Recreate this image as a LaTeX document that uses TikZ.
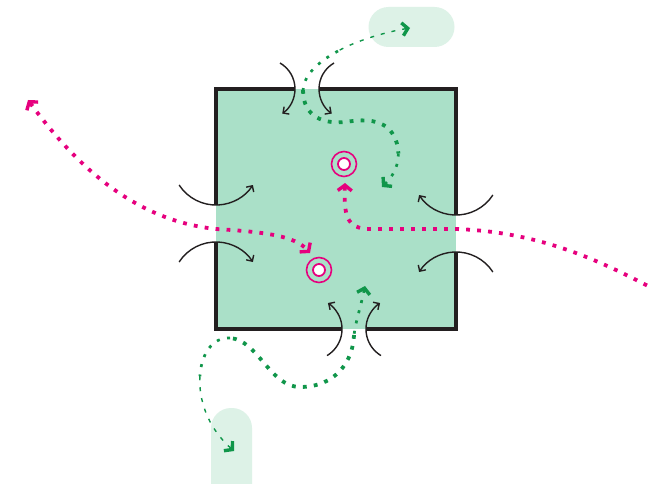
\documentclass[tikz,border=0pt]{standalone}
\usetikzlibrary{arrows.meta}
\definecolor{sqfill}{RGB}{170,224,200}
\definecolor{pillc}{RGB}{221,242,231}
\definecolor{edgec}{RGB}{35,31,32}
\definecolor{pinkc}{RGB}{230,0,126}
\definecolor{greenc}{RGB}{16,150,74}
\tikzset{
  pinkdots/.style={draw=pinkc, line width=3.8pt, dash pattern=on 3.8pt off 7.2pt},
  gthick/.style={draw=greenc, line width=3.8pt, dash pattern=on 3.8pt off 7.2pt},
  gmid/.style={draw=greenc, line width=2.7pt, dash pattern=on 3pt off 7.5pt},
  gthin/.style={draw=greenc, line width=1.4pt, dash pattern=on 4pt off 7pt},
  blackarc/.style={draw=edgec, line width=1.4pt, -{Straight Barb[length=4.5pt,width=9pt]}},
  border/.style={draw=edgec, line width=3.6pt},
  pill/.style={fill=pillc, rounded corners=20pt, inner sep=0pt},
  ringout/.style={circle, draw=pinkc, line width=1.6pt, minimum size=25pt, inner sep=0pt},
  ringin/.style={circle, draw=pinkc, fill=white, line width=1.8pt, minimum size=12pt, inner sep=0pt}
}
\begin{document}
\begin{tikzpicture}[x=1pt,y=-1pt]
\useasboundingbox (0,0) rectangle (650,484);
\clip (0,0) rectangle (650,484);
\fill[white] (0,0) rectangle (650,484);

% pills
\node[pill, minimum width=86pt, minimum height=40pt] (p1) at (411.5,27) {};
\node[pill, minimum width=41pt, minimum height=120pt] (p2) at (231.5,468) {};

% square
\fill[sqfill] (216,89) rectangle (456,329);
\draw[border] (295,89) -- (216,89) -- (216,205);
\draw[border] (216,242) -- (216,329) -- (342,329);
\draw[border] (366,329) -- (456,329) -- (456,252);
\draw[border] (456,215) -- (456,89) -- (319,89);

% arc start points
\coordinate (a1) at (280,63);
\coordinate (a2) at (334,63);
\coordinate (a3) at (179.1,185);
\coordinate (a4) at (179.1,262);
\coordinate (a5) at (492.9,195);
\coordinate (a6) at (492.9,272);
\coordinate (a7) at (327,355.6);
\coordinate (a8) at (381,355.6);
\draw[blackarc] (a1) arc[start angle=-60, end angle=55, radius=30];
\draw[blackarc] (a2) arc[start angle=240, end angle=125, radius=30];
\draw[blackarc] (a3) arc[start angle=147, end angle=33, radius=44];
\draw[blackarc] (a4) arc[start angle=213, end angle=327, radius=44];
\draw[blackarc] (a5) arc[start angle=33, end angle=147, radius=44];
\draw[blackarc] (a6) arc[start angle=327, end angle=213, radius=44];
\draw[blackarc] (a7) arc[start angle=59, end angle=-57, radius=31];
\draw[blackarc] (a8) arc[start angle=121, end angle=237, radius=31];

% targets
\node[ringout] (t1) at (344,164) {};
\node[ringin] (t1i) at (t1) {};
\node[ringout] (t2) at (319,270) {};
\node[ringin] (t2i) at (t2) {};

% pink paths
\coordinate (pA) at (28,100);
\coordinate (pB) at (310,253);
\coordinate (pC) at (345,183);
\coordinate (pD) at (665,295);
\draw[pinkdots, {Straight Barb[length=5.5pt,width=14pt,line width=3.4pt,color=pinkc]}-{Straight Barb[length=5.5pt,width=14pt,line width=3.4pt,color=pinkc]}]
  (pA) .. controls (90,185) and (150,222) .. (216,229)
  .. controls (266,232) and (295,236) .. (pB);
\draw[pinkdots, {Straight Barb[length=5.5pt,width=14pt,line width=3.4pt,color=pinkc]}-]
  (pC) .. controls (344,215) and (346,229) .. (370,229) -- (456,229)
  .. controls (540,232) and (600,260) .. (pD);

% green top path
\coordinate (gA) at (410,28);
\coordinate (gB) at (382,187);
\draw[gthin, {Straight Barb[length=5.5pt,width=13pt,line width=3.4pt,color=greenc]}-]
  (gA) .. controls (386,32) and (358,40) .. (338,51);
\draw[gmid] (338,51) .. controls (318,62) and (304,75) .. (303,90);
\draw[gthick] (303,90) .. controls (303,118) and (325,124) .. (345,122)
  .. controls (360,120) and (375,118) .. (388,128)
  .. controls (394,134) and (398.25,143.25) .. (398.4,153.5);
\draw[gmid, -{Straight Barb[length=5.5pt,width=13pt,line width=3.4pt,color=greenc]}]
  (398.4,153.5) .. controls (398.5,163.75) and (394.5,175) .. (gB);

% green bottom path
\coordinate (gC) at (365,286);
\coordinate (gD) at (234,451);
\draw[gmid, {Straight Barb[length=5.5pt,width=13pt,line width=3.4pt,color=greenc]}-]
  (gC) .. controls (360,310) and (356,320) .. (354,335);
\draw[gthick] (354,335) .. controls (353,362) and (335,387) .. (300,387)
  .. controls (270,387) and (258,340) .. (230,338);
\draw[gmid] (230,338) .. controls (212.5,337) and (201.25,353.75) .. (199.9,376.25);
\draw[gthin, -{Straight Barb[length=5.5pt,width=13pt,line width=3.4pt,color=greenc]}]
  (199.9,376.25) .. controls (198.5,398.75) and (207,427) .. (gD);
\end{tikzpicture}
\end{document}
